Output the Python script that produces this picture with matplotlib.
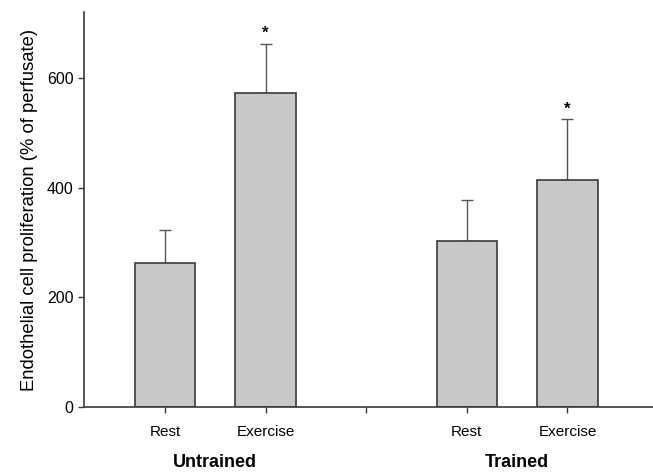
import matplotlib.pyplot as plt
import numpy as np

plt.rcParams['font.family'] = ['Liberation Sans', 'DejaVu Sans']

conditions = ['Rest', 'Exercise', 'Rest', 'Exercise']
groups = ['Untrained', 'Trained']
means = [263, 573, 303, 414]
sem = [60, 89, 75, 110]
significant = [False, True, False, True]

# bars sit at 1, 2 and 4, 5 with an empty tick at 3 between the groups
xpos = np.array([1, 2, 4, 5])
tick_pos = [1, 2, 3, 4, 5]
tick_labels = ['Rest', 'Exercise', '', 'Rest', 'Exercise']

fig = plt.figure(figsize=(6.53, 4.72), dpi=100)
ax = fig.add_axes([0.1286, 0.1377, 0.8714, 0.837])

edge = '#3a3a3a'
ax.bar(xpos, means, width=0.6, color='#c8c8c8', edgecolor=edge, linewidth=1.2, zorder=2)
ax.errorbar(xpos, means, yerr=[np.zeros(len(sem)), sem], fmt='none',
            ecolor='#555555', elinewidth=1.0, capsize=4.5, capthick=1.0, zorder=1)

for x, m, s, sig in zip(xpos, means, sem, significant):
    if sig:
        ax.annotate('*', (x, m + s), xytext=(0, 2), textcoords='offset points',
                    ha='center', va='bottom', fontsize=12, fontweight='bold')

ax.set_xlim(0.195, 5.85)
ax.set_ylim(0, 720)
ax.set_yticks([0, 200, 400, 600])
ax.set_xticks(tick_pos)
ax.set_xticklabels(tick_labels)
ax.tick_params(axis='both', labelsize=11, color=edge, length=4, width=1, direction='out')
ax.tick_params(axis='y', labelsize=11.5)
ax.tick_params(axis='x', pad=9)

for side in ['top', 'right']:
    ax.spines[side].set_visible(False)
for side in ['left', 'bottom']:
    ax.spines[side].set_color(edge)
    ax.spines[side].set_linewidth(1.2)

ax.set_ylabel('Endothelial cell proliferation (% of perfusate)', fontsize=13.3, labelpad=6)

for gx, name in zip([1.5, 4.5], groups):
    ax.text(gx, -0.12, name, transform=ax.get_xaxis_transform(), ha='center', va='top',
            fontsize=13, fontweight='bold')

fig.savefig('out.png', dpi=100)
